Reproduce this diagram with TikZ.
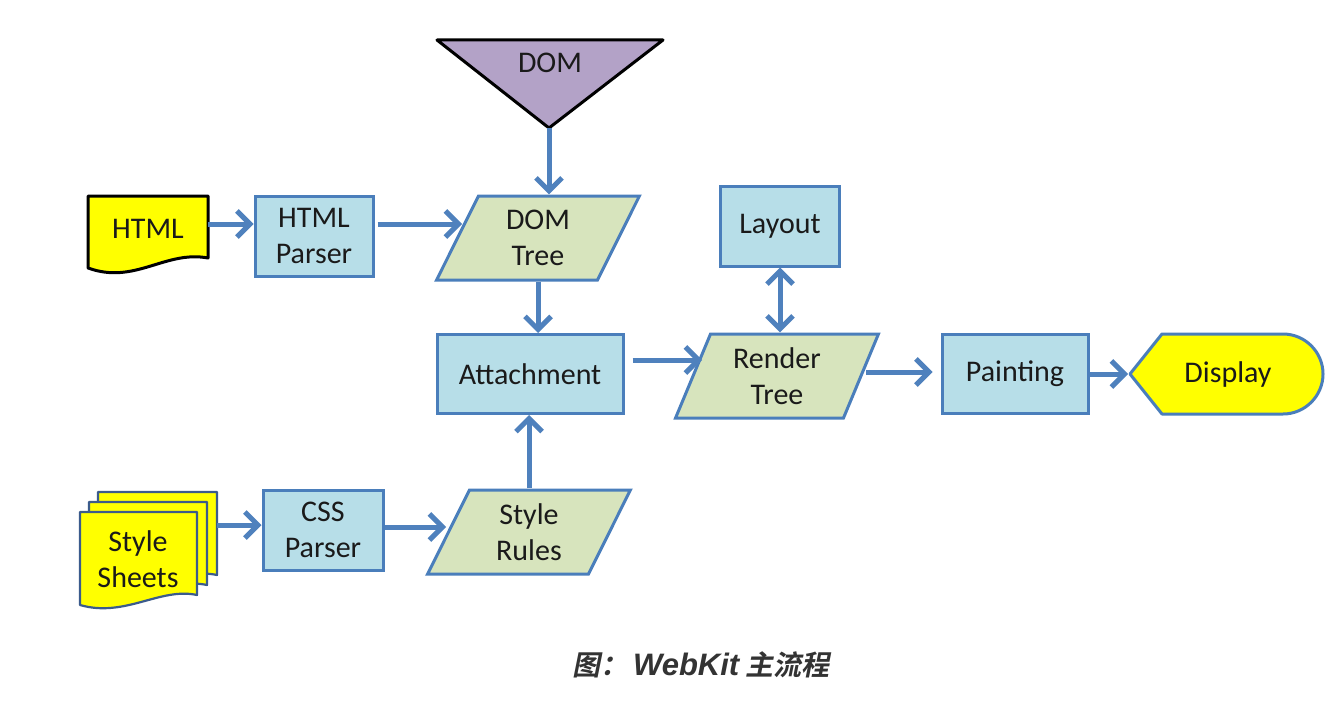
\documentclass[tikz,border=0pt]{standalone}
\usepackage{fontspec}
\setmainfont{Carlito}
\newfontfamily\capcjk[FakeSlant=0.2]{Noto Sans CJK SC Bold}
\newfontfamily\caplat{Liberation Sans}
\usetikzlibrary{arrows.meta,shapes.geometric}
\definecolor{arrowblue}{HTML}{4F81BD}
\definecolor{boxline}{HTML}{4A7EBB}
\definecolor{boxfill}{HTML}{B7DEE8}
\definecolor{parafill}{HTML}{D7E4BD}
\definecolor{docyellow}{HTML}{FFFF00}
\definecolor{dompurple}{HTML}{B3A2C7}
\definecolor{textdark}{HTML}{1A1A1A}
\definecolor{capgray}{HTML}{333333}
\definecolor{sheetline}{HTML}{3B5B8C}
\begin{document}
\begin{tikzpicture}[x=1pt,y=-1pt,
  lbl/.style={font=\fontsize{30}{36}\selectfont, text=textdark, align=center, inner sep=0pt},
  bluebox/.style={lbl, draw=boxline, line width=3pt, fill=boxfill, minimum height=80pt},
  para/.style={lbl, shape=trapezium, trapezium left angle=68, trapezium right angle=112,
    trapezium stretches=true, draw=boxline, line width=3pt, fill=parafill,
    minimum width=203pt, minimum height=84pt},
  doc/.style={draw=black, line width=3pt, fill=docyellow, line join=round},
  sheet/.style={draw=sheetline, line width=2.2pt, fill=docyellow, line join=round},
  tip/.tip={Straight Barb[length=13pt,width=26pt,line width=5pt]},
  arr/.style={draw=arrowblue, line width=5pt, -tip},
  arrboth/.style={draw=arrowblue, line width=5pt, tip-tip}
]
\useasboundingbox (0,0) rectangle (1344,706);
\fill[white] (0,0) rectangle (1344,706);

% DOM triangle
\draw[fill=dompurple, draw=black, line width=3pt, line join=round] (437,40) -- (663,40) -- (549,128) -- cycle;
\node[lbl] (dom) at (550,63) {DOM};
\coordinate (domtip) at (549,128);

% HTML document
\draw[doc] (88,196) -- (208,196) -- (208,258) .. controls (165,250) and (135,285) .. (88,268) -- cycle;
\node[lbl] (html) at (148,229) {HTML};
\coordinate (htmlout) at (208,224);

% Style sheets (stack)
\draw[sheet] (98,492) -- (217,492) -- (217,575) .. controls (180,567) and (145,598) .. (98,585) -- cycle;
\draw[sheet] (89,502) -- (207,502) -- (207,585) .. controls (170,577) and (135,608) .. (89,595) -- cycle;
\draw[sheet] (80,512) -- (197,512) -- (197,595) .. controls (160,587) and (125,618) .. (80,605) -- cycle;
\node[lbl] (sheets) at (138,559) {Style\\Sheets};
\coordinate (sheetsout) at (217,525);

% Boxes
\node[bluebox, minimum width=118pt] (parser) at (314,236) {HTML\\Parser};
\node[bluebox, minimum width=120pt] (css) at (323,530) {CSS\\Parser};
\node[bluebox, minimum width=186pt, minimum height=79pt] (attach) at (530,374) {Attachment};
\node[bluebox, minimum width=119pt] (layout) at (780,226) {Layout};
\node[bluebox, minimum width=146pt, minimum height=79pt] (painting) at (1015,374) {Painting};

% Parallelograms
\node[para] (domtree) at (538,238) {DOM\\Tree};
\node[para] (render) at (777,376) {Render\\Tree};
\node[para] (rules) at (529,532) {Style\\Rules};

% Display shape
\draw[draw=boxline, line width=3pt, fill=docyellow, line join=round]
  (1130,374) -- (1162,334) -- (1283,334) .. controls (1305,334) and (1323,352) .. (1323,374)
  .. controls (1323,396) and (1305,414) .. (1283,414) -- (1162,414) -- cycle;
\node[lbl] (display) at (1228,374) {Display};
\coordinate (disptip) at (1128,374);

% connection points on slanted sides
\coordinate (domtreein) at (462,224);
\coordinate (renderin) at (702,360);
\coordinate (renderout) at (866,372);
\coordinate (rulesin) at (446,527);

% Connectors
\draw[arr] (domtip) -- (domtip |- domtree.north);
\draw[arr] (htmlout) -- (parser.west |- htmlout);
\draw[arr, shorten <=3pt] (parser.east |- domtreein) -- (domtreein);
\draw[arr] (domtree.south) -- (domtree.south |- attach.north);
\draw[arr, shorten <=8pt] (attach.east |- renderin) -- (renderin);
\draw[arrboth] (layout.south) -- (layout.south |- render.north);
\draw[arr, shorten >=8pt] (renderout) -- (painting.west |- renderout);
\draw[arr] (painting.east) -- (disptip);
\draw[arr] (sheetsout) -- (css.west |- sheetsout);
\draw[arr] (css.east |- rulesin) -- (rulesin);
\draw[arr] (rules.north) -- (rules.north |- attach.south);

% Caption
\node[text=capgray, inner sep=0pt] (caption) at (701,665)
  {\fontsize{28}{32}\selectfont\capcjk 图：\,{\caplat\bfseries\itshape\fontsize{31}{32}\selectfont WebKit}\ 主流程};
\end{tikzpicture}
\end{document}
